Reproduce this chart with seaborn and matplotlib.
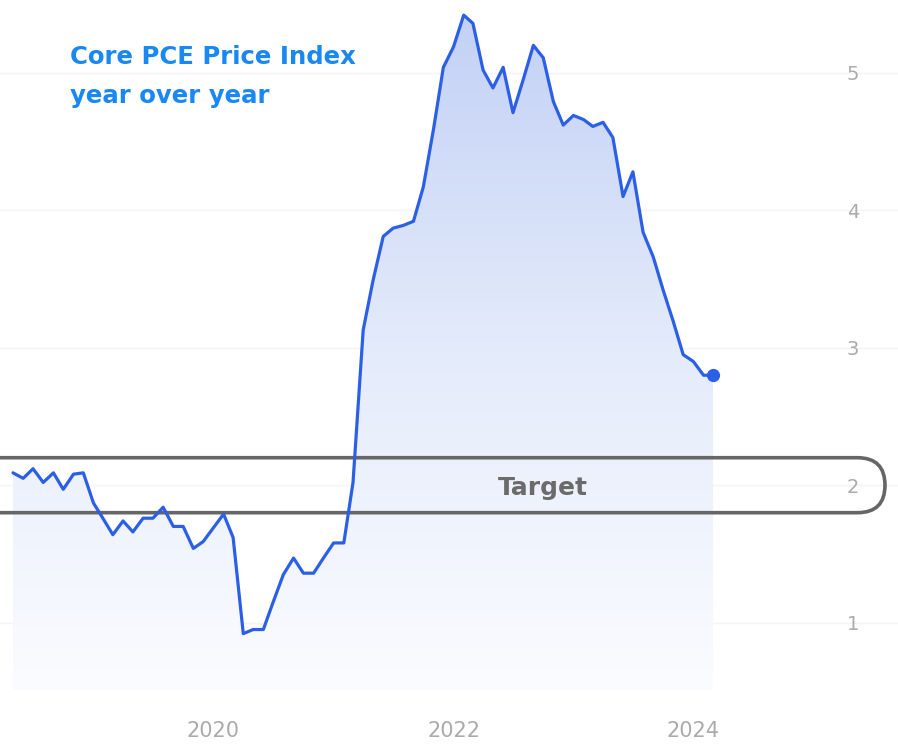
import numpy as np
import pandas as pd
import matplotlib
matplotlib.use("Agg")
import matplotlib.pyplot as plt
import matplotlib.dates as mdates
from matplotlib.patches import FancyBboxPatch
from matplotlib.transforms import IdentityTransform
from matplotlib.colors import LinearSegmentedColormap
import seaborn as sns

# ---------------- data ----------------
start_month = "2018-05-01"
core_pce_yoy = [
    2.09, 2.05, 2.12, 2.02, 2.09, 1.97, 2.08, 2.09,                         # 2018 May-Dec
    1.87, 1.75, 1.64, 1.74, 1.66, 1.76, 1.76, 1.84, 1.70, 1.70, 1.54, 1.59, # 2019
    1.69, 1.79, 1.62, 0.92, 0.95, 0.95, 1.15, 1.35, 1.47, 1.36, 1.36, 1.47, # 2020
    1.58, 1.58, 2.02, 3.13, 3.49, 3.81, 3.87, 3.89, 3.92, 4.17, 4.59, 5.04, # 2021
    5.19, 5.42, 5.36, 5.02, 4.89, 5.04, 4.71, 4.95, 5.20, 5.11, 4.79, 4.62, # 2022
    4.69, 4.66, 4.61, 4.64, 4.53, 4.10, 4.28, 3.84, 3.66, 3.42, 3.19, 2.95, # 2023
    2.90, 2.80, 2.80,                                                       # 2024 Jan-Mar
]
x_tick_years = ["2020", "2022", "2024"]
y_ticks = [1, 2, 3, 4, 5]
target_low, target_high = 1.8, 2.2
title_text = "Core PCE Price Index\nyear over year"
target_label = "Target"

dates = pd.date_range(start_month, periods=len(core_pce_yoy), freq="MS")
df = pd.DataFrame({"date": dates, "value": core_pce_yoy})

# ---------------- style ----------------
sns.set_theme(style="white")
plt.rcParams["font.family"] = ["DejaVu Sans"]

line_color = "#2b5fe6"
title_color = "#1a88f2"
tick_color = "#ababab"

W, H = 898, 744
fig = plt.figure(figsize=(W / 100, H / 100), dpi=100)
ax = fig.add_axes([0, 54 / H, 1, 690 / H])

ylo, yhi = 0.51, 5.53
month = pd.Timedelta(days=30.44)
xlo = dates[0] - 1.3 * month
xhi = dates[0] + 88.5 * month
ax.set_xlim(xlo, xhi)
ax.set_ylim(ylo, yhi)

# line
sns.lineplot(data=df, x="date", y="value", ax=ax, color=line_color,
             linewidth=2.3, zorder=5)
ax.plot(dates[-1:], core_pce_yoy[-1:], "o", color=line_color,
        markersize=8.5, zorder=6)

# gradient fill under line
poly = ax.fill_between(dates, core_pce_yoy, ylo, facecolor="none",
                       edgecolor="none", zorder=2)
cmap = LinearSegmentedColormap.from_list("g", ["#fbfcff", "#e4ebfb", "#c3d1f5"])
grad = np.linspace(0, 1, 256).reshape(-1, 1)
xn0, xn1 = mdates.date2num(xlo), mdates.date2num(dates[-1])
img = ax.imshow(grad, extent=[xn0, xn1, ylo, max(core_pce_yoy)], origin="lower",
                aspect="auto", cmap=cmap, zorder=2)
img.set_clip_path(poly.get_paths()[0], transform=ax.transData)
ax.set_xlim(xlo, xhi)
ax.set_ylim(ylo, yhi)

# faint gridlines
ax.set_yticks(y_ticks)
ax.grid(axis="y", color="#f4f4f4", linewidth=1, zorder=0)
ax.grid(axis="x", visible=False)

# ticks
ax.set_xticks([pd.Timestamp(f"{y}-01-01") for y in x_tick_years])
ax.set_xticklabels(x_tick_years)
ax.tick_params(axis="x", length=0, pad=22, labelsize=15, labelcolor=tick_color)
ax.yaxis.tick_right()
ax.tick_params(axis="y", length=0, pad=-37, labelsize=14, labelcolor=tick_color,
               labelright=True, labelleft=False)
ax.set_yticklabels([str(v) for v in y_ticks])
for lab in ax.get_yticklabels():
    lab.set_horizontalalignment("left")
ax.set_xlabel("")
ax.set_ylabel("")
for s in ax.spines.values():
    s.set_visible(False)

# target band (rounded box in pixel space)
fig.canvas.draw()
_, py0 = ax.transData.transform((mdates.date2num(dates[0]), target_low))
_, py1 = ax.transData.transform((mdates.date2num(dates[0]), target_high))
px0 = -60
px1 = ax.transAxes.transform((0.9855, 0))[0]
h = py1 - py0
band = FancyBboxPatch((px0, py0), px1 - px0, h,
                      boxstyle=f"round,pad=0,rounding_size={h / 2}",
                      transform=IdentityTransform(), facecolor="none",
                      edgecolor="#666666", linewidth=2.6, zorder=4, clip_on=False)
ax.add_artist(band)
ax.text(pd.Timestamp("2022-10-01"), (target_low + target_high) / 2 - 0.02, target_label,
        ha="center", va="center", fontsize=18, fontweight="bold",
        color="#6b6b6b", zorder=7)

# title
fig.text(70 / W, 1 - 45 / H, title_text, ha="left", va="top", fontsize=17.6,
         fontweight="bold", color=title_color, linespacing=1.8)

fig.savefig("out.png", dpi=100, facecolor="white")
